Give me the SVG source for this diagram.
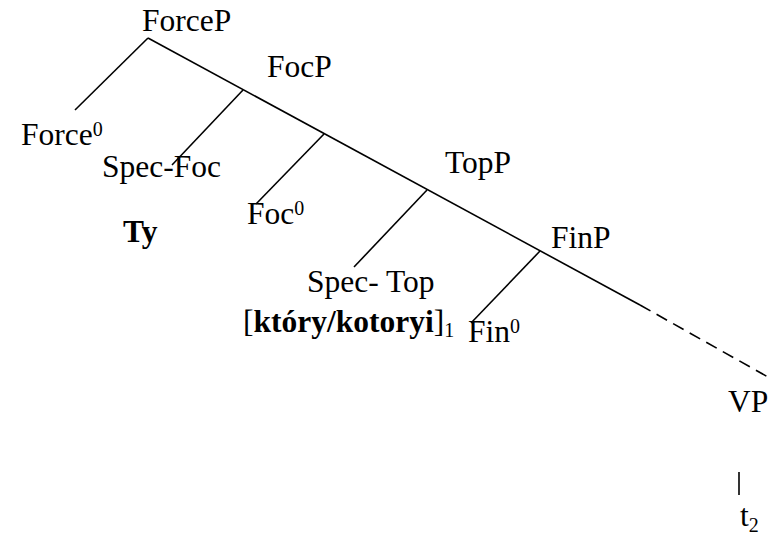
<svg xmlns="http://www.w3.org/2000/svg" width="770" height="536" viewBox="0 0 770 536">
  <style>
    .lbl { font-family: "Liberation Serif", "Times New Roman", serif; font-size: 31.5px; fill: #000; }
    .b { font-weight: bold; }
    .sup { font-size: 20px; }
    .edge { stroke: #000; stroke-width: 1.6; fill: none; }
    .dash { stroke-dasharray: 12 7; }
  </style>
  <rect width="770" height="536" fill="#fff"/>

  <!-- tree branches -->
  <g id="connectors">
    <line class="edge" x1="148" y1="38" x2="640" y2="305"/>
    <line class="edge dash" x1="640" y1="305" x2="768" y2="377"/>
    <line class="edge" x1="148" y1="38" x2="75" y2="110"/>
    <line class="edge" x1="243" y1="90" x2="172" y2="165"/>
    <line class="edge" x1="324" y1="134" x2="256" y2="204"/>
    <line class="edge" x1="427" y1="190" x2="354" y2="267"/>
    <line class="edge" x1="540" y1="251" x2="471" y2="323"/>
    <line class="edge" x1="739" y1="472" x2="739" y2="495"/>
  </g>

  <g id="forceP"><text class="lbl" x="142" y="31">ForceP</text></g>
  <g id="force0"><text class="lbl" x="21" y="145">Force<tspan class="sup" dy="-9">0</tspan></text></g>
  <g id="focP"><text class="lbl" x="267" y="77">FocP</text></g>
  <g id="specFoc"><text class="lbl" x="102" y="177">Spec-Foc</text></g>
  <g id="ty"><text class="lbl b" x="123" y="242">Ty</text></g>
  <g id="foc0"><text class="lbl" x="247" y="224">Foc<tspan class="sup" dy="-9">0</tspan></text></g>
  <g id="topP"><text class="lbl" x="445" y="173">TopP</text></g>
  <g id="specTop"><text class="lbl" x="307" y="292">Spec- Top</text></g>
  <g id="ktory"><text class="lbl" x="243" y="332">[<tspan class="b">który/kotoryi</tspan>]<tspan class="sup" dy="5">1</tspan></text></g>
  <g id="finP"><text class="lbl" x="551" y="248">FinP</text></g>
  <g id="fin0"><text class="lbl" x="468" y="342">Fin<tspan class="sup" dy="-9">0</tspan></text></g>
  <g id="vp"><text class="lbl" x="728" y="412">VP</text></g>
  <g id="t2"><text class="lbl" x="740" y="526">t<tspan class="sup" dy="6">2</tspan></text></g>
</svg>
